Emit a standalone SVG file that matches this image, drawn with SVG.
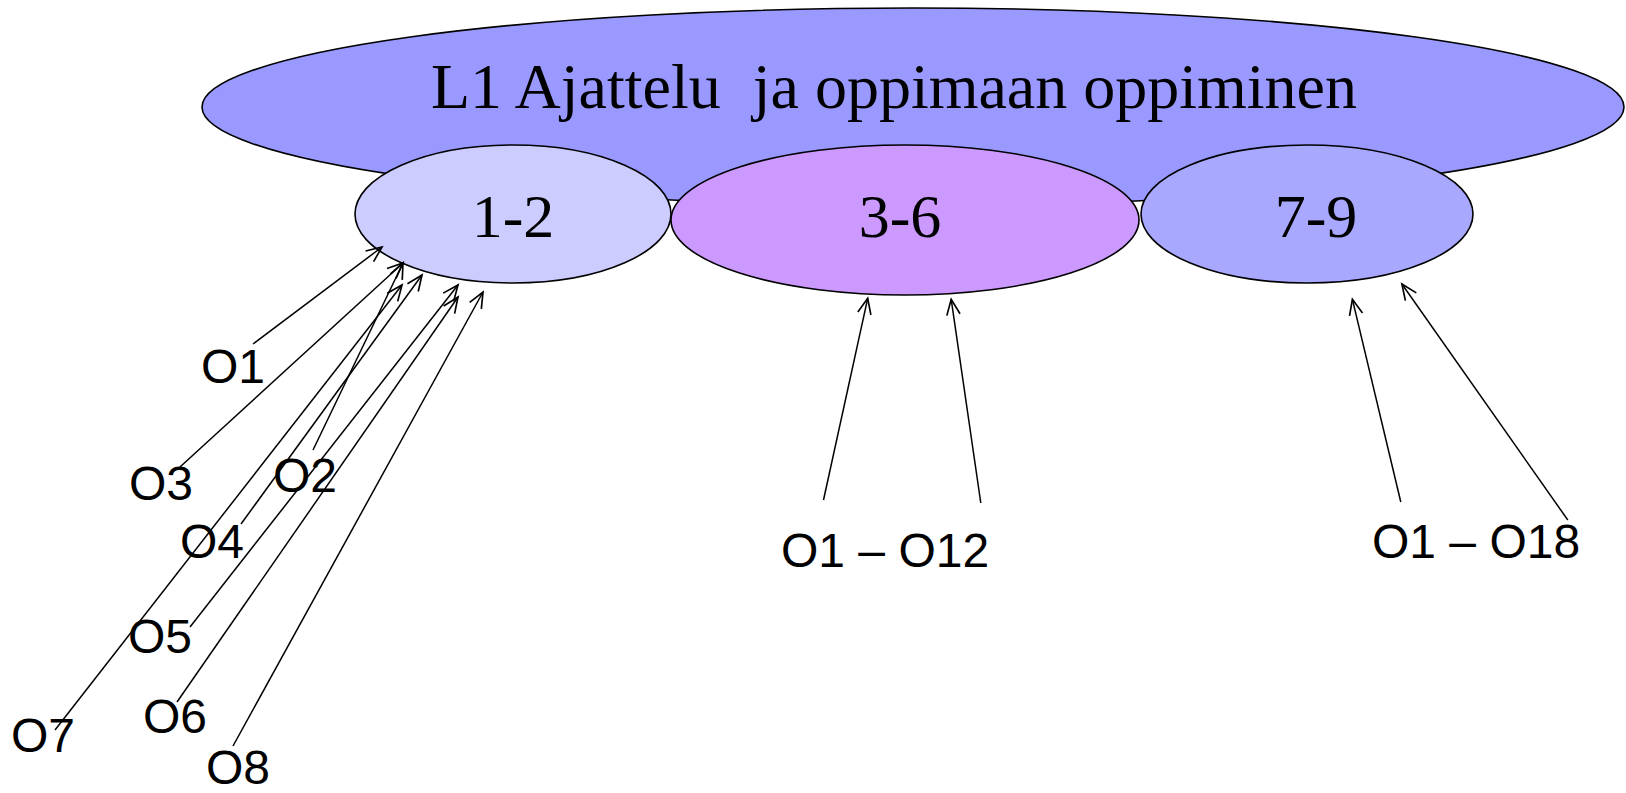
<svg xmlns="http://www.w3.org/2000/svg" width="1626" height="793" viewBox="0 0 1626 793">
<style>
.ell{stroke:#000;stroke-width:1.6}
.ttl{font-family:"Liberation Serif","Times New Roman",serif;fill:#000;white-space:pre}
.lbl{font-family:"Liberation Sans",Arial,sans-serif;font-size:48px;fill:#000;white-space:pre}
.con line{stroke:#000;stroke-width:1.5;fill:none;marker-end:url(#arr)}
</style>
<defs>
<marker id="arr" markerUnits="userSpaceOnUse" markerWidth="20" markerHeight="20" viewBox="-16 -8 18 16" refX="0" refY="0" orient="auto">
<path d="M-14,-6 L0,0 L-14,6" fill="none" stroke="#000" stroke-width="1.5"/>
</marker>
</defs>
<rect width="1626" height="793" fill="#fff"/>
<g id="main">
<ellipse class="ell" cx="913" cy="107" rx="711" ry="99" fill="#9999FF"/>
<text class="ttl" x="894" y="108" font-size="64" text-anchor="middle">L1 Ajattelu  ja oppimaan oppiminen</text>
</g>
<g id="n12">
<ellipse class="ell" cx="513" cy="214" rx="158" ry="69" fill="#CCCCFF"/>
<text class="ttl" x="513" y="237" font-size="62" text-anchor="middle">1-2</text>
</g>
<g id="n79">
<ellipse class="ell" cx="1307" cy="214" rx="166" ry="69" fill="#A8A8FF"/>
<text class="ttl" x="1316" y="237" font-size="62" text-anchor="middle">7-9</text>
</g>
<g id="n36">
<ellipse class="ell" cx="905" cy="220" rx="234" ry="75" fill="#CC99FF"/>
<text class="ttl" x="900" y="237" font-size="62" text-anchor="middle">3-6</text>
</g>
<g id="connectors" class="con">
<line x1="253" y1="344" x2="382" y2="247"/>
<line x1="180" y1="467" x2="403" y2="263"/>
<line x1="313" y1="450" x2="403" y2="263"/>
<line x1="55" y1="730" x2="402" y2="285"/>
<line x1="241" y1="524" x2="422" y2="275"/>
<line x1="190" y1="627" x2="458" y2="285"/>
<line x1="177" y1="702" x2="458" y2="297"/>
<line x1="233" y1="746" x2="483" y2="292"/>
<line x1="823.5" y1="500" x2="867.7" y2="298.3"/>
<line x1="980.8" y1="503" x2="951.2" y2="299.3"/>
<line x1="1400.8" y1="502" x2="1352.4" y2="299.3"/>
<line x1="1567.8" y1="520" x2="1401.9" y2="284"/>
</g>
<g id="labels">
<text class="lbl" x="201" y="383">O1</text>
<text class="lbl" x="129" y="500">O3</text>
<text class="lbl" x="273" y="492">O2</text>
<text class="lbl" x="180" y="558">O4</text>
<text class="lbl" x="128" y="653">O5</text>
<text class="lbl" x="143" y="733">O6</text>
<text class="lbl" x="11" y="752">O7</text>
<text class="lbl" x="206" y="784">O8</text>
<text class="lbl" x="781" y="567">O1 – O12</text>
<text class="lbl" x="1372" y="558">O1 – O18</text>
</g>
</svg>
